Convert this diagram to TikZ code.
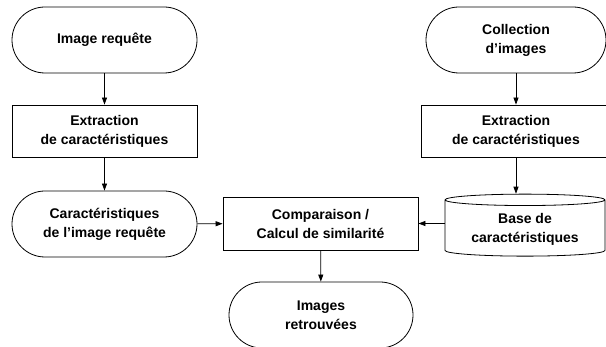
\documentclass[tikz,border=0pt]{standalone}
\usepackage{fontspec}
\setmainfont{Liberation Sans}
\usetikzlibrary{arrows.meta,shapes.geometric}
\tikzset{
  termbox/.style={draw, rectangle, rounded corners=33pt, minimum width=185pt, minimum height=66pt, align=center, font=\fontsize{14}{19}\selectfont\bfseries},
  procbox/.style={draw, rectangle, minimum height=52pt, align=center, font=\fontsize{14}{19}\selectfont\bfseries},
  dbbox/.style={draw, cylinder, shape border rotate=90, aspect=0.1, align=center, font=\fontsize{14}{19}\selectfont\bfseries},
  link/.style={line width=0.8pt,>={Triangle[length=7pt,width=5pt]}}
}
\begin{document}
\begin{tikzpicture}[line width=0.8pt]
    \useasboundingbox (0,0) rectangle (606pt,-347pt);
    % colonne de gauche
    \node[termbox] (req) at (104.5pt,-40pt) {Image requête};
    \node[procbox, minimum width=185pt] (ext1) at (104.5pt,-131pt) {Extraction\\de caractéristiques};
    \node[termbox] (feat) at (104.5pt,-224pt) {Caractéristiques\\de l’image requête};
    % colonne de droite
    \node[termbox, minimum width=180pt] (coll) at (516pt,-40pt) {Collection\\d’images};
    \node[procbox, minimum width=190pt] (ext2) at (516pt,-131pt) {Extraction\\de caractéristiques};
    \node[dbbox, minimum width=160pt, minimum height=62pt] (base) at (525pt,-229pt) {Base de\\caractéristiques};
    % centre
    \node[procbox, minimum width=195pt, minimum height=53pt] (cmp) at (320.5pt,-223.5pt) {Comparaison /\\Calcul de similarité};
    \node[termbox, minimum width=184pt] (res) at (321pt,-315pt) {Images\\retrouvées};
    \draw[link,->] (req) -- (ext1);
    \draw[link,->] (ext1) -- (feat);
    \draw[link,->] (feat) -- (cmp);
    \draw[link,->] (coll.south) -- (ext2.north);
    \draw[link,->] (ext2.south) -- (ext2.south |- base.north);
    \draw[link,->] (cmp.east -| base.west) -- (cmp.east);
    \draw[link,->] (cmp) -- (res);
  \end{tikzpicture}
\end{document}
